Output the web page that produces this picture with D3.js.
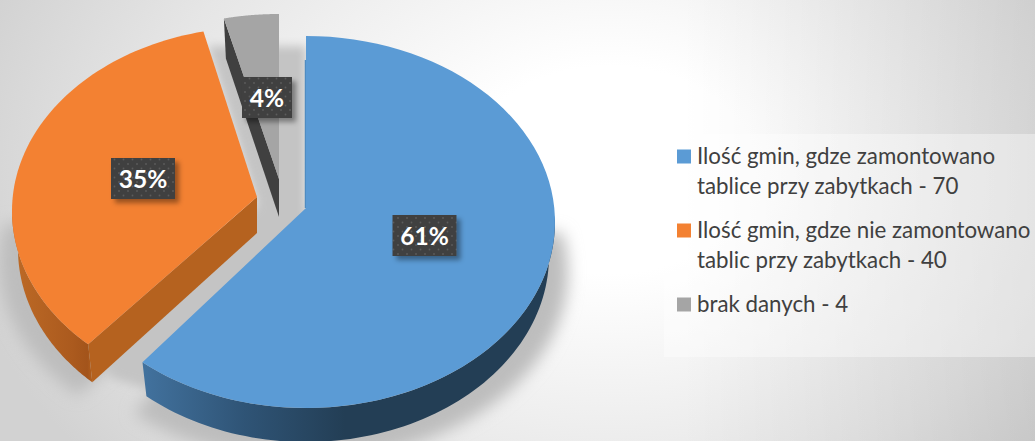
<!DOCTYPE html>
<html><head><meta charset="utf-8">
<script src="https://cdnjs.cloudflare.com/ajax/libs/d3/7.8.5/d3.min.js"></script>
<style>html,body{margin:0;padding:0;background:#fff}svg{display:block}text{font-family:Lato,"Open Sans",sans-serif}</style>
</head><body><svg id="c" width="1035" height="441"></svg>
<script>
const categories = ["Ilość gmin, gdze zamontowano|tablice przy zabytkach - 70","Ilość gmin, gdze nie zamontowano|tablic przy zabytkach - 40","brak danych - 4"];
const values = [70,40,4];
const colors = ["#5b9bd5","#f38132","#a5a5a5"];

// layout only
const W=1035,H=441;
const geom=[
 {cx:306,cy:222,rx:249,ry:186,ax:306,ay:208,bcy:256,brx:243,bax:306,bay:246,nudge0:0,nudge1:0,lx:424.5,ly:235.5},
 {cx:257,cy:211,rx:245,ry:184,ax:257,ay:197,bcy:249,brx:239,bax:257,bay:233,nudge0:2.5,nudge1:0,lx:143,ly:178.5},
 {cx:279,cy:198,rx:252,ry:184,ax:279,ay:179,bcy:236,brx:252,bax:279,bay:217,nudge0:0,nudge1:0,lx:267,ly:97.5}
];
const rad=Math.PI/180;
const svg=d3.select("#c");
const defs=svg.append("defs");

const bg=defs.append("radialGradient").attr("id","bg").attr("gradientUnits","userSpaceOnUse")
  .attr("cx",0).attr("cy",0).attr("r",1)
  .attr("gradientTransform","translate(610,170) scale(660,470)");
[[0,"#ffffff"],[.22,"#ffffff"],[.7,"#e6e6e6"],[1,"#d2d2d2"]].forEach(s=>bg.append("stop").attr("offset",s[0]).attr("stop-color",s[1]));
const rs=defs.append("linearGradient").attr("id","rs").attr("gradientUnits","userSpaceOnUse").attr("x1",680).attr("x2",1035).attr("y1",0).attr("y2",0);
[[0,0],[1,.09]].forEach(s=>rs.append("stop").attr("offset",s[0]).attr("stop-color","#000").attr("stop-opacity",s[1]));

const wb=defs.append("linearGradient").attr("id","wb").attr("gradientUnits","userSpaceOnUse").attr("x1",143).attr("x2",345).attr("y1",0).attr("y2",0);
[[0,"#42729e"],[.5,"#2f5476"],[1,"#233e55"]].forEach(s=>wb.append("stop").attr("offset",s[0]).attr("stop-color",s[1]));
const wo=defs.append("linearGradient").attr("id","wo").attr("gradientUnits","userSpaceOnUse").attr("x1",12).attr("x2",93).attr("y1",0).attr("y2",0);
[[0,"#bd6a26"],[.75,"#ab5a1e"],[.93,"#a3541b"],[1,"#b5621f"]].forEach(s=>wo.append("stop").attr("offset",s[0]).attr("stop-color",s[1]));

defs.append("filter").attr("id","blur").attr("x","-20%").attr("y","-20%").attr("width","140%").attr("height","140%")
  .append("feGaussianBlur").attr("stdDeviation",5);
defs.append("filter").attr("id","blur2").attr("x","-20%").attr("y","-20%").attr("width","140%").attr("height","140%")
  .append("feGaussianBlur").attr("stdDeviation",8);
const ds=defs.append("filter").attr("id","ds").attr("x","-20%").attr("y","-20%").attr("width","150%").attr("height","150%");
ds.append("feDropShadow").attr("dx",4).attr("dy",4).attr("stdDeviation",2.5).attr("flood-color","#000").attr("flood-opacity",.38);
const pat=defs.append("pattern").attr("id","dots").attr("patternUnits","userSpaceOnUse").attr("width",9).attr("height",9);
pat.append("rect").attr("width",9).attr("height",9).attr("fill","#404040");
[[2,2],[6.5,6.5]].forEach(p=>pat.append("circle").attr("cx",p[0]).attr("cy",p[1]).attr("r",.9).attr("fill","#5b5b5b"));

svg.append("rect").attr("width",W).attr("height",H).attr("fill","url(#bg)");
svg.append("rect").attr("width",W).attr("height",H).attr("fill","url(#rs)");
svg.append("rect").attr("x",664).attr("y",134).attr("width",371).attr("height",223).attr("fill","#fff").attr("fill-opacity",.38);

const pie=d3.pie().sort(null).value(d=>d).startAngle(0).endAngle(2*Math.PI);
const arcs=pie(values);
const total=d3.sum(values);

function pt(cx,cy,rx,ry,a){return [cx+rx*Math.sin(a),cy-ry*Math.cos(a)];}
function arcPts(cx,cy,rx,ry,a0,a1){const n=80;return d3.range(n+1).map(i=>pt(cx,cy,rx,ry,a0+(a1-a0)*i/n));}
const line=d3.line().curve(d3.curveLinear);
const polyPath=p=>line(p)+"Z";

// shadow
const g0=geom[0],g1=geom[1],a0=arcs[0],a1=arcs[1];
const sh2=svg.append("g").attr("filter","url(#blur2)").attr("fill","#bdbdbd");
sh2.append("path").attr("d",polyPath([[306,210]].concat(arcPts(306,272,262,188,78*rad,a0.endAngle))));
sh2.append("path").attr("d",polyPath([[257,240]].concat(arcPts(257,262,258,186,a1.startAngle+3*rad,282*rad))));
const sh=svg.append("g").attr("filter","url(#blur)").attr("fill","#c4c4c4");
sh.append("path").attr("d",polyPath([[208,46],[306,46],[306,225],[150,390],[112,378],[95,345],[257,205]]));

// slices painted back to front
[2,1,0].forEach(i=>{
  const a=arcs[i],g=geom[i],s=a.startAngle+g.nudge0*rad,e=a.endAngle+g.nudge1*rad;
  const G=svg.append("g");
  const top=arcPts(g.cx,g.cy,g.rx,g.ry,s,e);
  const bot=arcPts(g.cx,g.bcy,g.brx,g.ry,s,e);
  if(i===0){
    const rimS=88*rad;
    const t2=arcPts(g.cx,g.cy,g.rx,g.ry,rimS,e),b2=arcPts(g.cx,g.bcy,g.brx,g.ry,rimS,e);
    G.append("path").attr("d",polyPath(t2.concat(b2.reverse()))).attr("fill","url(#wb)");
    G.append("path").attr("d",line([[g.ax-0.5,g.ay],[g.ax-0.5,60]])).attr("stroke","#4f8cc2").attr("stroke-width",1.5).attr("fill","none");
  }
  if(i===1){
    const t2=arcPts(g.cx,g.cy,g.rx,g.ry,s,270*rad),b2=arcPts(g.cx,g.bcy,g.brx,g.ry,s,270*rad);
    G.append("path").attr("d",polyPath(t2.concat(b2.reverse()))).attr("fill","url(#wo)");
    G.append("path").attr("d",polyPath([top[0],[g.ax,g.ay],[g.bax,g.bay],bot[0]])).attr("fill","#b5621f");
  }
  if(i===2){
    G.append("path").attr("d",polyPath([top[0],[g.ax,g.ay],[g.bax,g.bay],[top[0][0]+2,top[0][1]+40]])).attr("fill","#404040");
  }
  G.append("path").attr("d",polyPath([[g.ax,g.ay]].concat(top))).attr("fill",colors[i]);
});

// data labels
arcs.forEach((a,i)=>{
  const g=geom[i],t=Math.round(a.data/total*100)+"%";
  const w=i===2?50:64,h=41;
  svg.append("rect").attr("x",g.lx-w/2).attr("y",g.ly-h/2).attr("width",w).attr("height",h).attr("fill","url(#dots)").attr("filter","url(#ds)");
  svg.append("text").attr("x",g.lx).attr("y",g.ly+9).attr("text-anchor","middle").attr("fill","#fff").attr("font-weight",700).attr("font-size",24.5).text(t);
});

// legend
const lg=svg.append("g");
const swatchY=d3.scaleOrdinal().domain([0,1,2]).range([149.5,223.5,297.5]);
categories.forEach((c,i)=>{
  lg.append("rect").attr("x",677).attr("y",swatchY(i)).attr("width",14).attr("height",14).attr("fill",colors[i]);
  c.split("|").forEach((l,j)=>lg.append("text").attr("x",697).attr("y",swatchY(i)+14.5+j*30).attr("fill","#404040").attr("font-size",22.3).text(l));
});
</script></body></html>
